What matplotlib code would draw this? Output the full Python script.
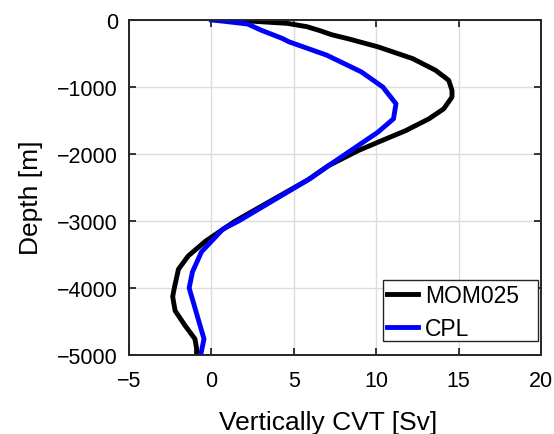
import matplotlib
matplotlib.use("Agg")
import matplotlib.pyplot as plt
from matplotlib.patches import Rectangle

plt.rcParams['font.family'] = ['Liberation Sans', 'DejaVu Sans']

# MOM025 profile
mom_depth = [0, -20, -50, -100, -160, -220, -280, -400, -575, -750, -900, -1050,
             -1150, -1325, -1475, -1650, -1825, -1950, -2175, -2380, -3000,
             -3300, -3520, -3720, -4000, -4130, -4340, -4560, -4760, -4900, -5000]
mom_cvt = [0.9, 2.6, 4.6, 5.8, 6.6, 7.3, 8.3, 10.1, 12.2, 13.6, 14.4, 14.6,
           14.6, 14.1, 13.2, 11.8, 10.1, 8.9, 7.1, 5.9, 1.45,
           -0.35, -1.4, -2.0, -2.25, -2.35, -2.2, -1.6, -1.0, -0.9, -0.9]

# CPL profile
cpl_depth = [0, -20, -60, -150, -275, -325, -525, -775, -1000, -1250, -1475,
             -1675, -1875, -2175, -2380, -3000, -3120, -3460, -3760, -4000,
             -4760, -5000]
cpl_cvt = [0.0, 0.8, 2.2, 3.0, 4.3, 4.7, 7.0, 9.1, 10.4, 11.2, 11.05,
           10.1, 8.9, 7.1, 5.9, 1.65, 0.7, -0.6, -1.15, -1.35,
           -0.45, -0.65]

xticks = [-5, 0, 5, 10, 15, 20]
yticks = [-5000, -4000, -3000, -2000, -1000, 0]


def fmt(v):
    return str(v).replace('-', '\u2212')


W, H = 554, 435
fig = plt.figure(figsize=(W / 100, H / 100), dpi=100)
ax = fig.add_axes([129 / W, 1 - 356 / H, 412 / W, 335 / H])

ax.plot(mom_cvt, mom_depth, color='black', lw=3.5, label='MOM025', solid_joinstyle='round')
ax.plot(cpl_cvt, cpl_depth, color='#0000ff', lw=3.5, label='CPL', solid_joinstyle='round')

ax.set_xlim(-5, 20)
ax.set_ylim(-5000, 0)
ax.set_xticks(xticks)
ax.set_yticks(yticks)
ax.set_xticklabels([fmt(t) for t in xticks])
ax.set_yticklabels([fmt(t) for t in yticks])
ax.grid(True, color='#dcdcdc', lw=1.0)
ax.set_axisbelow(True)

for s in ax.spines.values():
    s.set_color('#262626')
    s.set_linewidth(1.4)
ax.tick_params(direction='in', length=5, width=1.3, colors='#262626',
               top=True, right=True, labelsize=15.5, labelcolor='black')
ax.tick_params(axis='x', pad=11)
ax.tick_params(axis='y', pad=8)

ax.set_xlabel('Vertically CVT [Sv]', fontsize=19)
ax.set_ylabel('Depth [m]', fontsize=19)
ax.xaxis.set_label_coords(0.483, -0.165)
ax.yaxis.set_label_coords(-0.209, 0.472)

# legend box (MATLAB-style, with extra room on the right)
box = Rectangle((383 / W, 1 - 342 / H), 155 / W, 61 / H, transform=fig.transFigure,
                facecolor='white', edgecolor='#262626', lw=1.0, zorder=4, clip_on=False)
ax.add_artist(box)
leg = ax.legend(loc='upper left', bbox_to_anchor=(384 / W, 1 - 282 / H),
                bbox_transform=fig.transFigure, fontsize=16.5, frameon=False,
                handlelength=1.35, handletextpad=0.3, borderpad=0.15,
                labelspacing=0.4, borderaxespad=0.0)
leg.set_zorder(5)

fig.savefig('out.png', dpi=100)
